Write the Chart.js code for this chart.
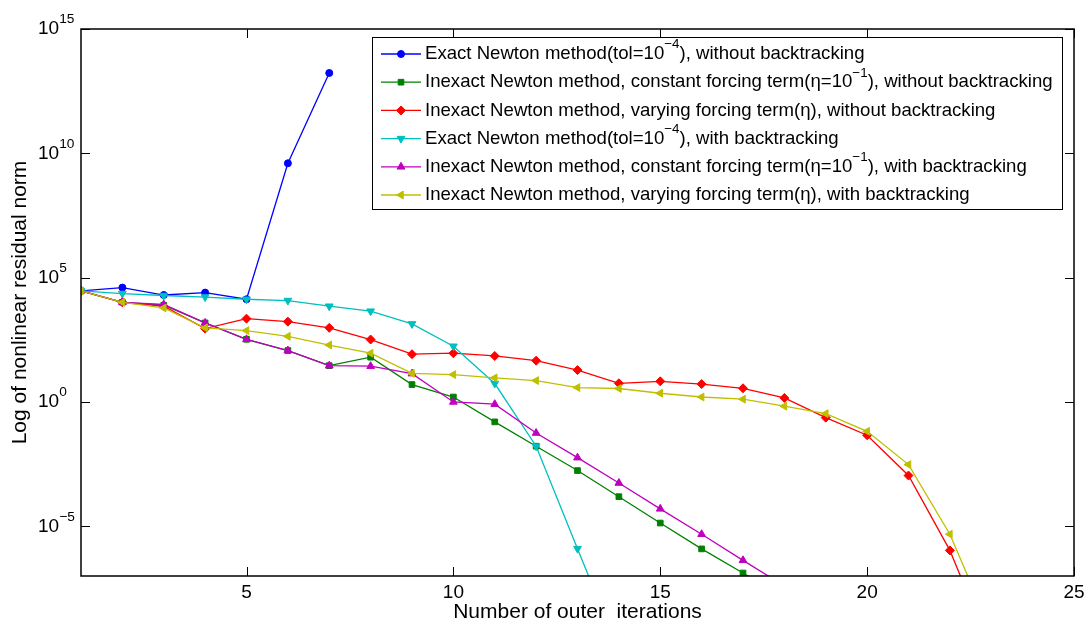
<!DOCTYPE html>
<html>
<head>
<meta charset="utf-8">
<script src="https://cdn.jsdelivr.net/npm/chart.js@4/dist/chart.umd.min.js"></script>
<style>
  html, body { margin: 0; padding: 0; background: #fff; }
  canvas { display: block; }
</style>
</head>
<body>
<canvas id="grafico" width="1088" height="624"></canvas>
<script>
// ticks dos eixos
const xTicks = [5, 10, 15, 20, 25];
const yTicks = [1e-5, 1e0, 1e5, 1e10, 1e15];

// residuos por iteracao externa (iteracao = indice + 1)
const exactSemBT = [2.95e4, 3.98e4, 2.0e4, 2.5e4, 1.35e4, 3.98e9, 1.7e13];
const inexactConstSemBT = [2.95e4, 1.02e4, 7.76e3, 1.51e3, 331, 117, 28.8, 63.1, 5.01, 1.58, 0.158, 0.0166,
  1.74e-3, 1.55e-4, 1.35e-5, 1.23e-6, 1.32e-7, 1.26e-8];
const inexactVarSemBT = [2.95e4, 1.02e4, 7.08e3, 891, 2.24e3, 1.70e3, 955, 324, 83.2, 91.2, 70.8, 45.7,
  19.1, 5.62, 6.76, 5.25, 3.55, 1.45, 0.234, 0.0457, 1.10e-3, 1.07e-6, 1e-10];
const exactComBT = [2.95e4, 2.29e4, 1.91e4, 1.66e4, 1.35e4, 1.20e4, 7.08e3, 4.47e3, 1.38e3, 174, 5.50,
  0.0166, 1.26e-6, 1e-10];
const inexactConstComBT = [2.95e4, 1.02e4, 8.32e3, 1.51e3, 331, 117, 28.8, 27.5, 13.8, 1.0, 0.813, 0.0562,
  5.75e-3, 5.50e-4, 5.01e-5, 4.79e-6, 4.27e-7, 3.98e-8];
const inexactVarComBT = [2.95e4, 1.02e4, 6.03e3, 955, 741, 437, 195, 91.2, 14.1, 12.6, 9.33, 7.24,
  3.80, 3.47, 2.24, 1.58, 1.29, 0.676, 0.339, 0.0661, 3.02e-3, 4.79e-6, 6.31e-10];

const seriesLabels = [
  'Exact Newton method(tol=10^{\u22124}), without backtracking',
  'Inexact Newton method, constant forcing term(\u03b7=10^{\u22121}), without backtracking',
  'Inexact Newton method, varying forcing term(\u03b7), without backtracking',
  'Exact Newton method(tol=10^{\u22124}), with backtracking',
  'Inexact Newton method, constant forcing term(\u03b7=10^{\u22121}), with backtracking',
  'Inexact Newton method, varying forcing term(\u03b7), with backtracking'
];

const series = [exactSemBT, inexactConstSemBT, inexactVarSemBT, exactComBT, inexactConstComBT, inexactVarComBT];
const cores = ['#0000ff', '#008000', '#ff0000', '#00bfbf', '#bf00bf', '#bfbf00'];
const marcadores = ['circle', 'rect', 'rectRot', 'triangle', 'triangle', 'triangle'];
const rotacoes = [0, 0, 0, 180, 0, 270];
const raios = [3.5, 4, 4.5, 4.5, 4.5, 4.5];

const FONTE = '"Liberation Sans", Arial, Helvetica, sans-serif';

// texto com expoente no formato 10^{...}
function textoRico(ctx, texto, x, y, tam) {
  const partes = texto.split(/(\^\{[^}]*\})/);
  let cx = x;
  partes.forEach(p => {
    if (!p) return;
    if (p.startsWith('^{')) {
      const s = p.slice(2, -1);
      ctx.font = (tam * 0.72).toFixed(1) + 'px ' + FONTE;
      ctx.fillText(s, cx, y - tam * 0.5);
      cx += ctx.measureText(s).width;
    } else {
      ctx.font = tam + 'px ' + FONTE;
      ctx.fillText(p, cx, y);
      cx += ctx.measureText(p).width;
    }
  });
  return cx;
}

// eixos no estilo matlab + legenda
const eixosPlugin = {
  id: 'eixosMatlab',
  afterDatasetsDraw(chart) {
    const { ctx, chartArea: a, scales: { x, y } } = chart;
    ctx.save();
    ctx.strokeStyle = '#000';
    ctx.fillStyle = '#000';

    ctx.lineWidth = 1;
    ctx.beginPath();
    xTicks.forEach(v => {
      const px = Math.round(x.getPixelForValue(v)) + 0.5;
      ctx.moveTo(px, a.bottom); ctx.lineTo(px, a.bottom - 9);
      ctx.moveTo(px, a.top); ctx.lineTo(px, a.top + 9);
    });
    yTicks.forEach(v => {
      const py = Math.round(y.getPixelForValue(v)) + 0.5;
      ctx.moveTo(a.left, py); ctx.lineTo(a.left + 9, py);
      ctx.moveTo(a.right, py); ctx.lineTo(a.right - 9, py);
    });
    ctx.stroke();

    ctx.lineWidth = 1.5;
    ctx.strokeRect(a.left, a.top, a.right - a.left, a.bottom - a.top);

    // rotulos
    ctx.textBaseline = 'middle';
    ctx.textAlign = 'center';
    ctx.font = '19px ' + FONTE;
    xTicks.forEach(v => ctx.fillText(String(v), x.getPixelForValue(v), a.bottom + 17));

    ctx.textAlign = 'left';
    yTicks.forEach(v => {
      const e = String(Math.round(Math.log10(v))).replace('-', '\u2212');
      textoRico(ctx, '10^{' + e + '}', 38, y.getPixelForValue(v), 19);
    });

    ctx.textAlign = 'center';
    ctx.font = '21px ' + FONTE;
    ctx.fillText('Number of outer  iterations', (a.left + a.right) / 2, 612);
    ctx.save();
    ctx.translate(20, (a.top + a.bottom) / 2);
    ctx.rotate(-Math.PI / 2);
    ctx.fillText('Log of nonlinear residual norm', 0, 0);
    ctx.restore();

    // legenda
    const lx = 372, ly = 37, lw = 690, lh = 172;
    ctx.fillStyle = '#fff';
    ctx.fillRect(lx, ly, lw, lh);
    ctx.lineWidth = 1;
    ctx.strokeStyle = '#000';
    ctx.strokeRect(lx + 0.5, ly + 0.5, lw, lh);
    ctx.textAlign = 'left';
    chart.data.datasets.forEach((ds, i) => {
      const ry = 54 + i * 28.2;
      ctx.strokeStyle = ds.borderColor;
      ctx.fillStyle = ds.borderColor;
      ctx.lineWidth = ds.borderWidth;
      ctx.beginPath();
      ctx.moveTo(381, ry); ctx.lineTo(421, ry);
      ctx.stroke();
      ctx.lineWidth = 1;
      Chart.helpers.drawPoint(ctx, {
        pointStyle: ds.pointStyle, rotation: ds.pointRotation,
        radius: ds.pointRadius, borderWidth: 1
      }, 401, ry);
      ctx.fillStyle = '#000';
      textoRico(ctx, seriesLabels[i], 425, ry, 18.6);
    });
    ctx.restore();
  }
};

new Chart(document.getElementById('grafico'), {
  type: 'line',
  data: {
    datasets: series.map((vals, i) => ({
      label: seriesLabels[i],
      data: vals.map((v, k) => ({ x: k + 1, y: v })),
      borderColor: cores[i],
      backgroundColor: cores[i],
      pointBackgroundColor: cores[i],
      pointBorderColor: cores[i],
      pointStyle: marcadores[i],
      pointRotation: rotacoes[i],
      pointRadius: raios[i],
      pointBorderWidth: 1,
      borderWidth: 1.3,
      tension: 0,
      order: series.length - i
    }))
  },
  options: {
    responsive: false,
    animation: false,
    devicePixelRatio: 1,
    layout: { padding: { left: 81, top: 29, right: 14, bottom: 48 } },
    plugins: { legend: { display: false }, tooltip: { enabled: false } },
    scales: {
      x: { type: 'linear', min: 1, max: 25, display: false },
      y: { type: 'logarithmic', min: 1e-7, max: 1e15, display: false }
    }
  },
  plugins: [eixosPlugin]
});
</script>
</body>
</html>
